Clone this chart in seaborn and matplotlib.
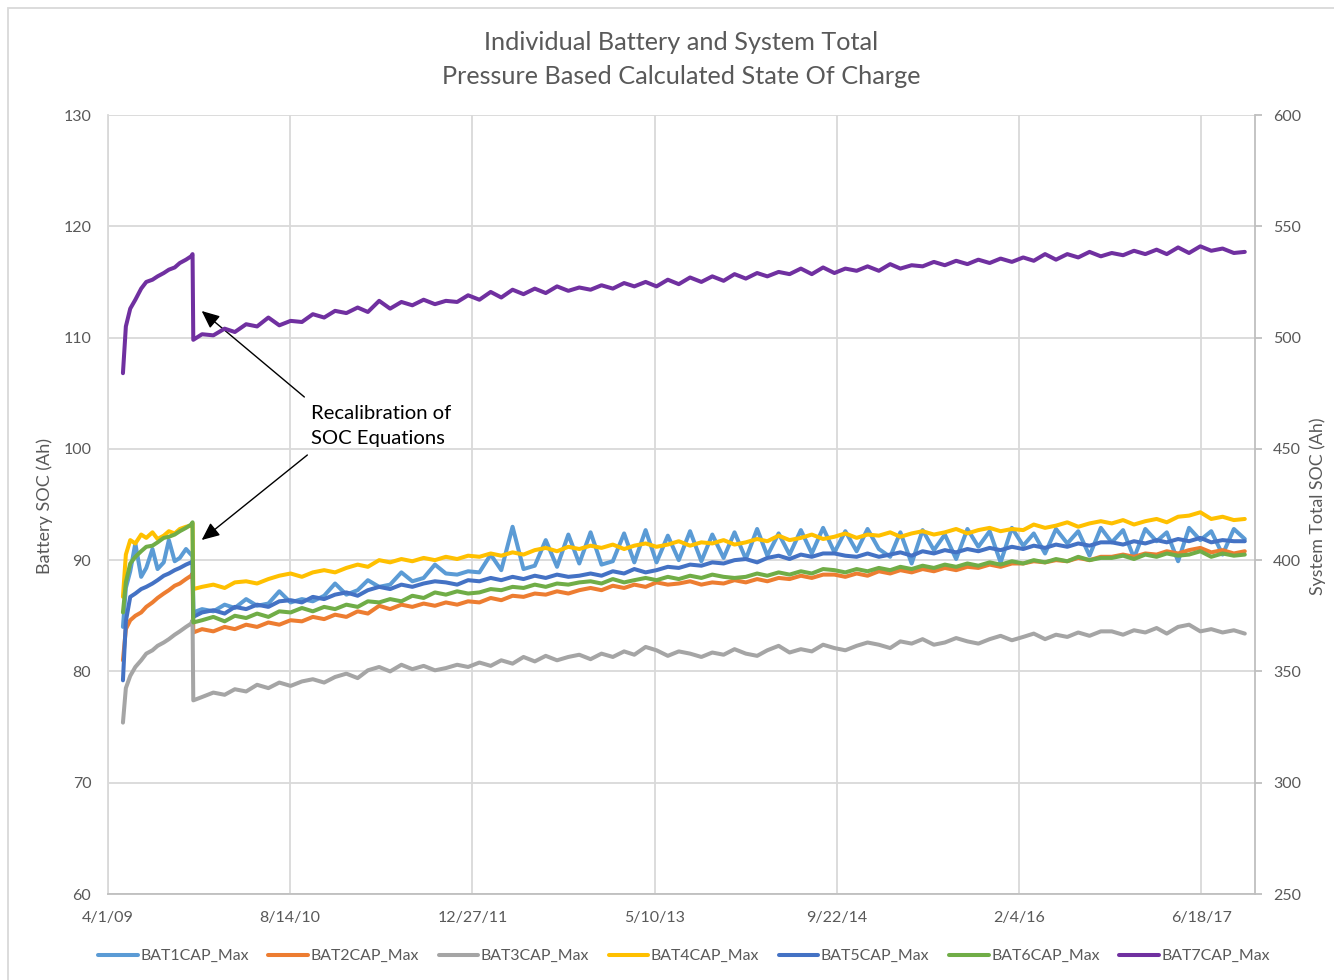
import numpy as np
import pandas as pd
import matplotlib
matplotlib.use("Agg")
import matplotlib.pyplot as plt
import matplotlib.dates as mdates
from matplotlib.lines import Line2D
from matplotlib.patches import Rectangle
import seaborn as sns

# ---------------- data ----------------
series_names = ["BAT1CAP_Max", "BAT2CAP_Max", "BAT3CAP_Max", "BAT4CAP_Max",
                "BAT5CAP_Max", "BAT6CAP_Max", "BAT7CAP_Max"]
colors = ["#5B9BD5", "#ED7D31", "#A5A5A5", "#FFC000", "#4472C4", "#70AD47", "#7030A0"]

pre_dates = ["2009-05-12", "2009-05-20", "2009-06-01", "2009-06-15", "2009-07-01",
             "2009-07-15", "2009-08-01", "2009-08-15", "2009-09-01", "2009-09-15",
             "2009-10-01", "2009-10-15", "2009-11-01", "2009-11-15", "2009-11-19"]
recal_date = "2009-11-21"
monthly_start = "2009-12-01"
monthly_end = "2017-10-01"

bat1_pre = [84.0, 87.5, 89.0, 91.5, 88.5, 89.3, 91.0, 89.2, 89.8, 91.8, 89.9, 90.2, 91.0, 90.5, 90.6]
bat2_pre = [81.0, 83.8, 84.6, 85.0, 85.3, 85.8, 86.2, 86.6, 87.0, 87.3, 87.7, 87.9, 88.3, 88.6, 88.8]
bat3_pre = [75.4, 78.5, 79.6, 80.4, 81.0, 81.6, 81.9, 82.3, 82.6, 82.9, 83.3, 83.6, 84.0, 84.3, 84.6]
bat4_pre = [86.7, 90.5, 91.8, 91.5, 92.3, 92.0, 92.5, 91.9, 92.2, 92.6, 92.4, 92.8, 93.0, 93.1, 93.3]
bat5_pre = [79.2, 84.5, 86.7, 87.0, 87.4, 87.6, 87.9, 88.2, 88.6, 88.8, 89.1, 89.3, 89.6, 89.8, 89.9]
bat6_pre = [85.3, 88.0, 89.7, 90.3, 90.8, 91.2, 91.3, 91.6, 92.0, 92.1, 92.3, 92.6, 92.9, 93.2, 93.4]
bat7_pre = [484.0, 505.0, 513.0, 517.0, 522.0, 525.0, 526.0, 527.5, 529.0, 530.5,
            531.5, 533.5, 535.0, 536.5, 537.5]

bat1_post = [85.3, 85.6, 85.4, 86.0, 85.7, 86.5, 85.9, 86.1, 87.2, 86.2, 86.5, 86.3,
             86.8, 87.9, 86.9, 87.3, 88.2, 87.6, 87.8, 88.9, 88.1, 88.4, 89.6, 88.8,
             88.7, 89.0, 88.9, 90.5, 89.1, 93.0, 89.2, 89.5, 91.8, 89.4, 92.3, 89.7,
             92.5, 89.6, 89.9, 92.4, 89.8, 92.7, 89.8, 92.2, 90.0, 92.6, 89.9, 92.3,
             90.2, 92.5, 90.1, 92.8, 90.4, 92.4, 90.5, 92.7, 90.6, 92.9, 90.7, 92.6,
             90.8, 92.8, 91.0, 90.3, 92.5, 89.7, 92.7, 90.9, 92.3, 90.1, 92.8, 91.2,
             92.6, 89.8, 92.9, 91.3, 92.4, 90.6, 92.8, 91.5, 92.6, 90.4, 92.9, 91.6,
             92.7, 90.2, 92.8, 91.7, 92.5, 89.9, 92.9, 91.8, 92.6, 90.5, 92.8, 91.9]
bat2_post = [83.5, 83.8, 83.6, 84.0, 83.8, 84.2, 84.0, 84.4, 84.2, 84.6, 84.5, 84.9,
             84.7, 85.1, 84.9, 85.4, 85.2, 85.9, 85.6, 86.0, 85.8, 86.1, 85.9, 86.2,
             86.0, 86.3, 86.2, 86.6, 86.4, 86.8, 86.7, 87.0, 86.9, 87.2, 87.0, 87.3,
             87.5, 87.3, 87.7, 87.5, 87.8, 87.6, 88.0, 87.8, 87.9, 88.1, 87.8, 88.0,
             87.9, 88.2, 88.0, 88.3, 88.1, 88.4, 88.3, 88.6, 88.4, 88.7, 88.7, 88.5,
             88.8, 88.6, 89.0, 88.8, 89.1, 88.9, 89.2, 89.0, 89.3, 89.1, 89.4, 89.3,
             89.6, 89.4, 89.7, 89.7, 89.9, 89.8, 90.0, 89.9, 90.2, 90.0, 90.3, 90.3,
             90.5, 90.3, 90.6, 90.5, 90.8, 90.6, 90.9, 91.1, 90.7, 90.9, 90.6, 90.8]
bat3_post = [77.4, 77.7, 78.1, 77.9, 78.4, 78.2, 78.8, 78.5, 79.0, 78.7, 79.1, 79.3,
             79.0, 79.5, 79.8, 79.4, 80.1, 80.4, 80.0, 80.6, 80.2, 80.5, 80.1, 80.3,
             80.6, 80.4, 80.8, 80.5, 81.0, 80.7, 81.3, 80.9, 81.4, 81.0, 81.3, 81.5,
             81.1, 81.6, 81.3, 81.8, 81.5, 82.2, 81.9, 81.4, 81.8, 81.6, 81.3, 81.7,
             81.5, 82.0, 81.6, 81.4, 81.9, 82.3, 81.7, 82.0, 81.8, 82.4, 82.1, 81.9,
             82.3, 82.6, 82.4, 82.1, 82.7, 82.5, 82.9, 82.4, 82.6, 83.0, 82.7, 82.5,
             82.9, 83.2, 82.8, 83.1, 83.4, 82.9, 83.3, 83.1, 83.5, 83.2, 83.6, 83.6,
             83.3, 83.7, 83.5, 83.9, 83.4, 84.0, 84.2, 83.6, 83.8, 83.5, 83.7, 83.4]
bat4_post = [87.4, 87.6, 87.8, 87.5, 88.0, 88.1, 87.9, 88.3, 88.6, 88.8, 88.5, 88.9,
             89.1, 88.9, 89.3, 89.6, 89.4, 90.0, 89.8, 90.1, 89.9, 90.2, 90.0, 90.3,
             90.1, 90.4, 90.3, 90.6, 90.4, 90.7, 90.5, 90.9, 91.1, 90.8, 91.2, 91.0,
             91.3, 91.1, 91.4, 91.0, 91.3, 91.5, 91.2, 91.4, 91.7, 91.3, 91.6, 91.5,
             91.8, 91.4, 91.6, 91.9, 91.7, 92.2, 91.8, 92.0, 92.3, 91.9, 92.1, 92.4,
             92.0, 92.3, 92.2, 92.5, 92.1, 92.4, 92.6, 92.3, 92.5, 92.8, 92.4, 92.7,
             92.9, 92.6, 92.8, 92.7, 93.2, 92.9, 93.1, 93.4, 93.0, 93.3, 93.5, 93.3,
             93.6, 93.2, 93.5, 93.7, 93.4, 93.9, 94.0, 94.3, 93.7, 93.9, 93.6, 93.7]
bat5_post = [84.9, 85.3, 85.5, 85.2, 85.8, 85.6, 86.0, 85.8, 86.3, 86.4, 86.2, 86.7,
             86.5, 86.9, 87.1, 86.8, 87.3, 87.6, 87.4, 87.8, 87.6, 87.9, 88.1, 88.0,
             87.8, 88.2, 88.1, 88.4, 88.2, 88.5, 88.3, 88.6, 88.4, 88.7, 88.5, 88.6,
             88.8, 88.6, 89.0, 88.8, 89.2, 88.9, 89.1, 89.4, 89.3, 89.6, 89.5, 89.8,
             89.7, 90.0, 90.1, 89.8, 90.2, 90.4, 90.1, 90.5, 90.3, 90.6, 90.6, 90.4,
             90.3, 90.6, 90.3, 90.5, 90.7, 90.4, 90.8, 90.6, 90.9, 90.7, 91.0, 90.8,
             91.1, 90.9, 91.2, 91.0, 91.3, 91.1, 91.4, 91.2, 91.5, 91.3, 91.6, 91.6,
             91.4, 91.7, 91.5, 91.8, 91.6, 91.9, 91.7, 92.0, 91.6, 91.8, 91.7, 91.7]
bat6_post = [84.4, 84.6, 84.9, 84.5, 85.0, 84.8, 85.2, 84.9, 85.4, 85.3, 85.7, 85.4,
             85.8, 85.6, 86.0, 85.8, 86.3, 86.2, 86.5, 86.3, 86.8, 86.6, 87.1, 86.9,
             87.2, 87.0, 87.1, 87.4, 87.3, 87.6, 87.5, 87.8, 87.6, 87.9, 87.8, 88.0,
             88.1, 87.9, 88.3, 88.0, 88.2, 88.4, 88.2, 88.5, 88.3, 88.6, 88.4, 88.7,
             88.5, 88.4, 88.5, 88.8, 88.6, 88.9, 88.7, 89.0, 88.8, 89.2, 89.1, 88.9,
             89.2, 89.0, 89.3, 89.1, 89.4, 89.2, 89.5, 89.3, 89.6, 89.4, 89.7, 89.5,
             89.8, 89.6, 89.9, 89.7, 90.0, 89.8, 90.1, 89.9, 90.3, 90.0, 90.2, 90.2,
             90.4, 90.1, 90.5, 90.3, 90.6, 90.4, 90.5, 90.8, 90.3, 90.6, 90.4, 90.5]
bat7_post = [499.0, 501.5, 501.0, 504.0, 502.5, 506.0, 505.0, 509.0, 505.5, 507.5, 507.0, 510.5,
             509.0, 512.0, 511.0, 513.5, 511.5, 516.5, 513.0, 516.0, 514.5, 517.0, 515.0, 516.5,
             516.0, 519.0, 517.0, 520.5, 518.0, 521.5, 519.5, 522.0, 520.0, 523.0, 521.0, 522.5,
             521.5, 523.5, 522.0, 524.5, 523.0, 525.0, 523.0, 526.0, 524.0, 527.0, 525.0, 527.5,
             525.5, 528.5, 526.5, 529.0, 527.5, 529.5, 528.5, 531.0, 528.5, 531.5, 529.0, 531.0,
             530.0, 532.0, 530.0, 533.0, 531.0, 532.5, 532.0, 534.0, 532.5, 534.5, 533.0, 535.0,
             533.5, 535.5, 534.0, 536.0, 534.5, 537.5, 535.0, 537.5, 536.0, 538.5, 536.5, 538.0,
             537.0, 539.0, 537.5, 539.5, 537.5, 540.5, 538.0, 541.0, 539.0, 540.0, 538.0, 538.5]

x_tick_labels = ["4/1/09", "8/14/10", "12/27/11", "5/10/13", "9/22/14", "2/4/16", "6/18/17"]
left_ticks = [60, 70, 80, 90, 100, 110, 120, 130]
right_ticks = [250, 300, 350, 400, 450, 500, 550, 600]

# ---------------- build frame ----------------
post_dates = [pd.Timestamp(recal_date)] + list(
    pd.date_range(monthly_start, monthly_end, freq="MS") + pd.Timedelta(days=14))
all_dates = list(pd.to_datetime(pre_dates)) + post_dates

pre_vals = [bat1_pre, bat2_pre, bat3_pre, bat4_pre, bat5_pre, bat6_pre, bat7_pre]
post_vals = [bat1_post, bat2_post, bat3_post, bat4_post, bat5_post, bat6_post, bat7_post]
frames = []
for name, a, b in zip(series_names, pre_vals, post_vals):
    frames.append(pd.DataFrame({"date": all_dates, "soc": list(a) + list(b), "series": name}))
df = pd.concat(frames, ignore_index=True)
df_bat = df[df["series"] != "BAT7CAP_Max"]
df_sys = df[df["series"] == "BAT7CAP_Max"]

# ---------------- style ----------------
sns.set_theme(style="white")
plt.rcParams["font.family"] = ["Lato", "DejaVu Sans"]
grey_txt = "#595959"
LW = 2.9

fig = plt.figure(figsize=(13.34, 9.8), dpi=100)
W, H = 1334, 980
ax = fig.add_axes([108 / W, 1 - 894 / H, (1255 - 108) / W, (894 - 115) / H])
ax2 = ax.twinx()

sns.lineplot(data=df_bat, x="date", y="soc", hue="series",
             palette=dict(zip(series_names[:6], colors[:6])),
             estimator=None, sort=False, linewidth=LW, ax=ax, legend=False)
sns.lineplot(data=df_sys, x="date", y="soc", color=colors[6],
             estimator=None, sort=False, linewidth=LW, ax=ax2, legend=False)

x0 = pd.Timestamp("2009-04-01")
ax.set_xlim(x0, pd.Timestamp("2017-11-12"))
ax.set_ylim(60, 130)
ax2.set_ylim(250, 600)
tick_dates = [pd.Timestamp(pd.to_datetime(t, format="%m/%d/%y")) for t in x_tick_labels]
ax.set_xticks(tick_dates)
ax.set_xticklabels(x_tick_labels)
ax.set_yticks(left_ticks)
ax2.set_yticks(right_ticks)

grid_c = "#D9D9D9"
ax.grid(True, color=grid_c, linewidth=1.3)
ax2.grid(False)
for a in (ax, ax2):
    for s in a.spines.values():
        s.set_visible(False)
ax.spines["bottom"].set_visible(True)
ax.spines["bottom"].set_color("#BFBFBF")
ax.spines["bottom"].set_linewidth(1.3)
ax.spines["left"].set_visible(True)
ax.spines["left"].set_color(grid_c)
ax.spines["left"].set_linewidth(1.3)
ax2.spines["right"].set_visible(True)
ax2.spines["right"].set_color("#BFBFBF")
ax2.spines["right"].set_linewidth(1.3)

ax.tick_params(axis="x", length=0, pad=12, labelsize=11.5, labelcolor=grey_txt)
ax.tick_params(axis="y", length=0, pad=12, labelsize=11.5, labelcolor=grey_txt)
ax2.tick_params(axis="y", length=5, width=1.3, color="#BFBFBF", pad=8,
                labelsize=11.5, labelcolor=grey_txt)
ax.set_xlabel("")
ax.set_ylabel("")
ax2.set_ylabel("")
ax2.set_zorder(ax.get_zorder() + 1)

fig.text(45 / W, 1 - 506 / H, "Battery SOC (Ah)", rotation=90, ha="center", va="center",
         fontsize=13, color=grey_txt)
fig.text(1318 / W, 1 - 506 / H, "System Total SOC (Ah)", rotation=90, ha="center", va="center",
         fontsize=12.8, color=grey_txt)

fig.text(681 / W, 1 - 43 / H, "Individual Battery and System Total", ha="center", va="center",
         fontsize=18.2, color=grey_txt)
fig.text(681 / W, 1 - 76 / H, "Pressure Based Calculated State Of Charge", ha="center",
         va="center", fontsize=18.2, color=grey_txt)

# annotation
def px_to_data(px, py):
    days = (px - 108) / ((1205 - 108) / 3000.0)
    d = mdates.date2num(x0 + pd.Timedelta(days=days))
    v = 130 - (py - 115) / ((894 - 115) / 70.0)
    return d, v

ax.text(*px_to_data(312, 426), "Recalibration of\nSOC Equations", ha="left", va="center",
        fontsize=14.6, color="black", linespacing=1.6, zorder=10)
arrow_kw = dict(arrowstyle="-|>,head_length=0.9,head_width=0.4", color="black", lw=1.0,
                shrinkA=0, shrinkB=0)
ax.annotate("", xy=px_to_data(202, 311), xytext=px_to_data(305, 397),
            arrowprops=arrow_kw, zorder=10, annotation_clip=False)
ax.annotate("", xy=px_to_data(202, 540), xytext=px_to_data(308, 455),
            arrowprops=arrow_kw, zorder=10, annotation_clip=False)

# legend
handles = [Line2D([0], [0], color=c, lw=LW) for c in colors]
fig.legend(handles, series_names, loc="center", bbox_to_anchor=(684 / W, 1 - 956 / H),
           ncol=7, frameon=False, fontsize=11.4, labelcolor=grey_txt,
           handlelength=2.5, handletextpad=0.15, columnspacing=1.25)

# outer chart border
fig.patches.append(Rectangle((8 / W, -0.01), 1.05, 1 - 8 / H + 0.01, transform=fig.transFigure,
                             fill=False, edgecolor="#D9D9D9", linewidth=1.3))

fig.savefig("out.png", dpi=100)
